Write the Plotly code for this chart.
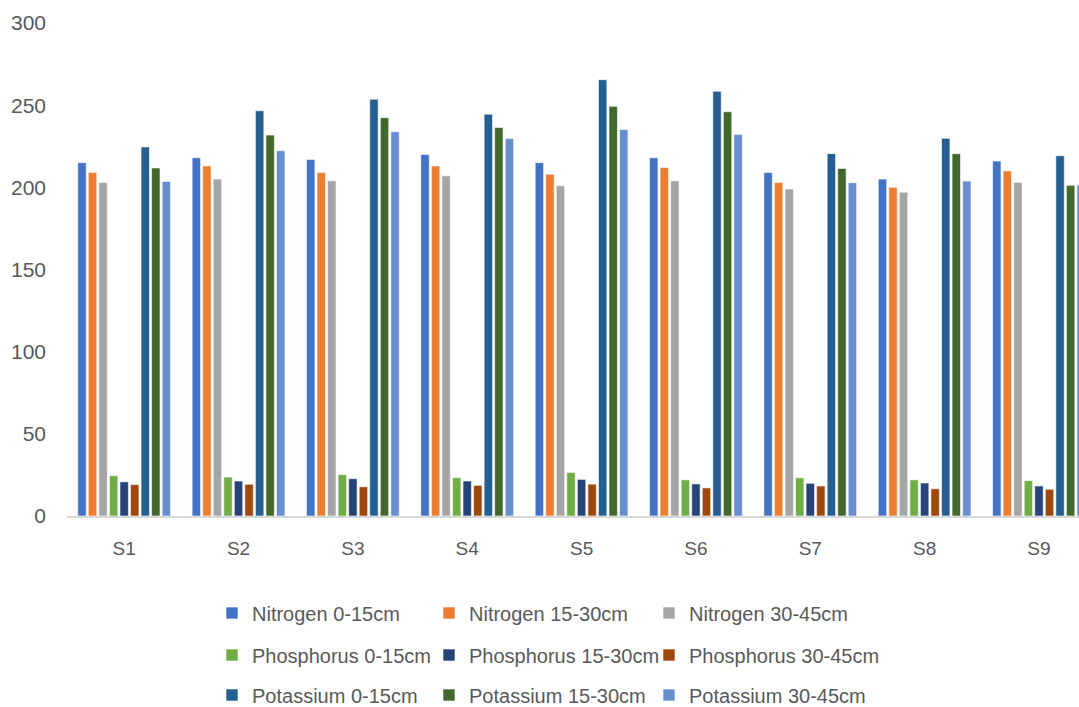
import plotly.graph_objects as go

sites = ["S1", "S2", "S3", "S4", "S5", "S6", "S7", "S8", "S9"]

nitrogen_0_15 = [215, 218, 217, 220, 215, 218, 209, 205, 216]
nitrogen_15_30 = [209, 213, 209, 213, 208, 212, 203, 200, 210]
nitrogen_30_45 = [203, 205, 204, 207, 201, 204, 199, 197, 203]
phosphorus_0_15 = [24.5, 23.7, 25.2, 23.3, 26.5, 22.0, 23.2, 22.0, 21.5]
phosphorus_15_30 = [20.8, 21.3, 22.7, 21.3, 22.3, 19.5, 19.9, 20.1, 18.3]
phosphorus_30_45 = [19.1, 19.3, 17.8, 18.7, 19.4, 17.1, 18.3, 16.6, 16.3]
potassium_0_15 = [224.6, 246.6, 253.6, 244.5, 265.5, 258.5, 220.5, 229.8, 219.2]
potassium_15_30 = [211.8, 231.8, 242.4, 236.4, 249.3, 246.0, 211.5, 220.5, 201.2]
potassium_30_45 = [203.6, 222.3, 233.8, 229.7, 235.2, 232.2, 202.8, 203.8, 201.5]

series_names = [
    "Nitrogen 0-15cm", "Nitrogen 15-30cm", "Nitrogen 30-45cm",
    "Phosphorus 0-15cm", "Phosphorus 15-30cm", "Phosphorus 30-45cm",
    "Potassium 0-15cm", "Potassium 15-30cm", "Potassium 30-45cm",
]
series_values = [
    nitrogen_0_15, nitrogen_15_30, nitrogen_30_45,
    phosphorus_0_15, phosphorus_15_30, phosphorus_30_45,
    potassium_0_15, potassium_15_30, potassium_30_45,
]
series_colors = [
    "#4472C4", "#ED7D31", "#A5A5A5",
    "#70AD47", "#264478", "#9E480E",
    "#255E91", "#43682B", "#698ED0",
]

W, H = 1079, 707
font_family = "Liberation Sans, Arial, sans-serif"
gray = "#595959"

leg_x = [212, 429, 649]
leg_y = [613, 655, 695]

fig = go.Figure()
layout_legends = {}
for i, (name, vals, color) in enumerate(zip(series_names, series_values, series_colors)):
    key = "legend" if i == 0 else f"legend{i + 1}"
    fig.add_trace(go.Bar(
        x=sites, y=vals, name=name, legend=key, showlegend=True,
        marker=dict(color=color, line=dict(color="white", width=0.6)),
    ))
    layout_legends[key] = dict(
        orientation="h", xref="container", yref="container",
        x=leg_x[i % 3] / W, y=1 - leg_y[i // 3] / H,
        xanchor="left", yanchor="middle", visible=True,
        font=dict(family=font_family, size=20, color=gray),
        itemwidth=30, bgcolor="rgba(0,0,0,0)",
    )

fig.update_layout(
    width=W, height=H,
    showlegend=True,
    margin=dict(l=67, r=0, t=23, b=191),
    paper_bgcolor="white", plot_bgcolor="white",
    barmode="group", bargap=0.17, bargroupgap=0.2,
    font=dict(family=font_family, color=gray),
    xaxis=dict(
        range=[-0.5, 8.35], showgrid=False, zeroline=False,
        showline=True, linecolor="#D9D9D9", linewidth=2,
        tickfont=dict(size=19, color=gray), ticks="", ticklabelstandoff=14,
    ),
    yaxis=dict(
        range=[0, 300], dtick=50, showgrid=False, zeroline=False,
        showline=False, tickfont=dict(size=21, color=gray), ticks="",
        ticklabelstandoff=20,
    ),
    **layout_legends,
)

fig.write_html(
    "out.html",
    config={"displayModeBar": False},
    post_script="document.body.style.margin='0';",
)
